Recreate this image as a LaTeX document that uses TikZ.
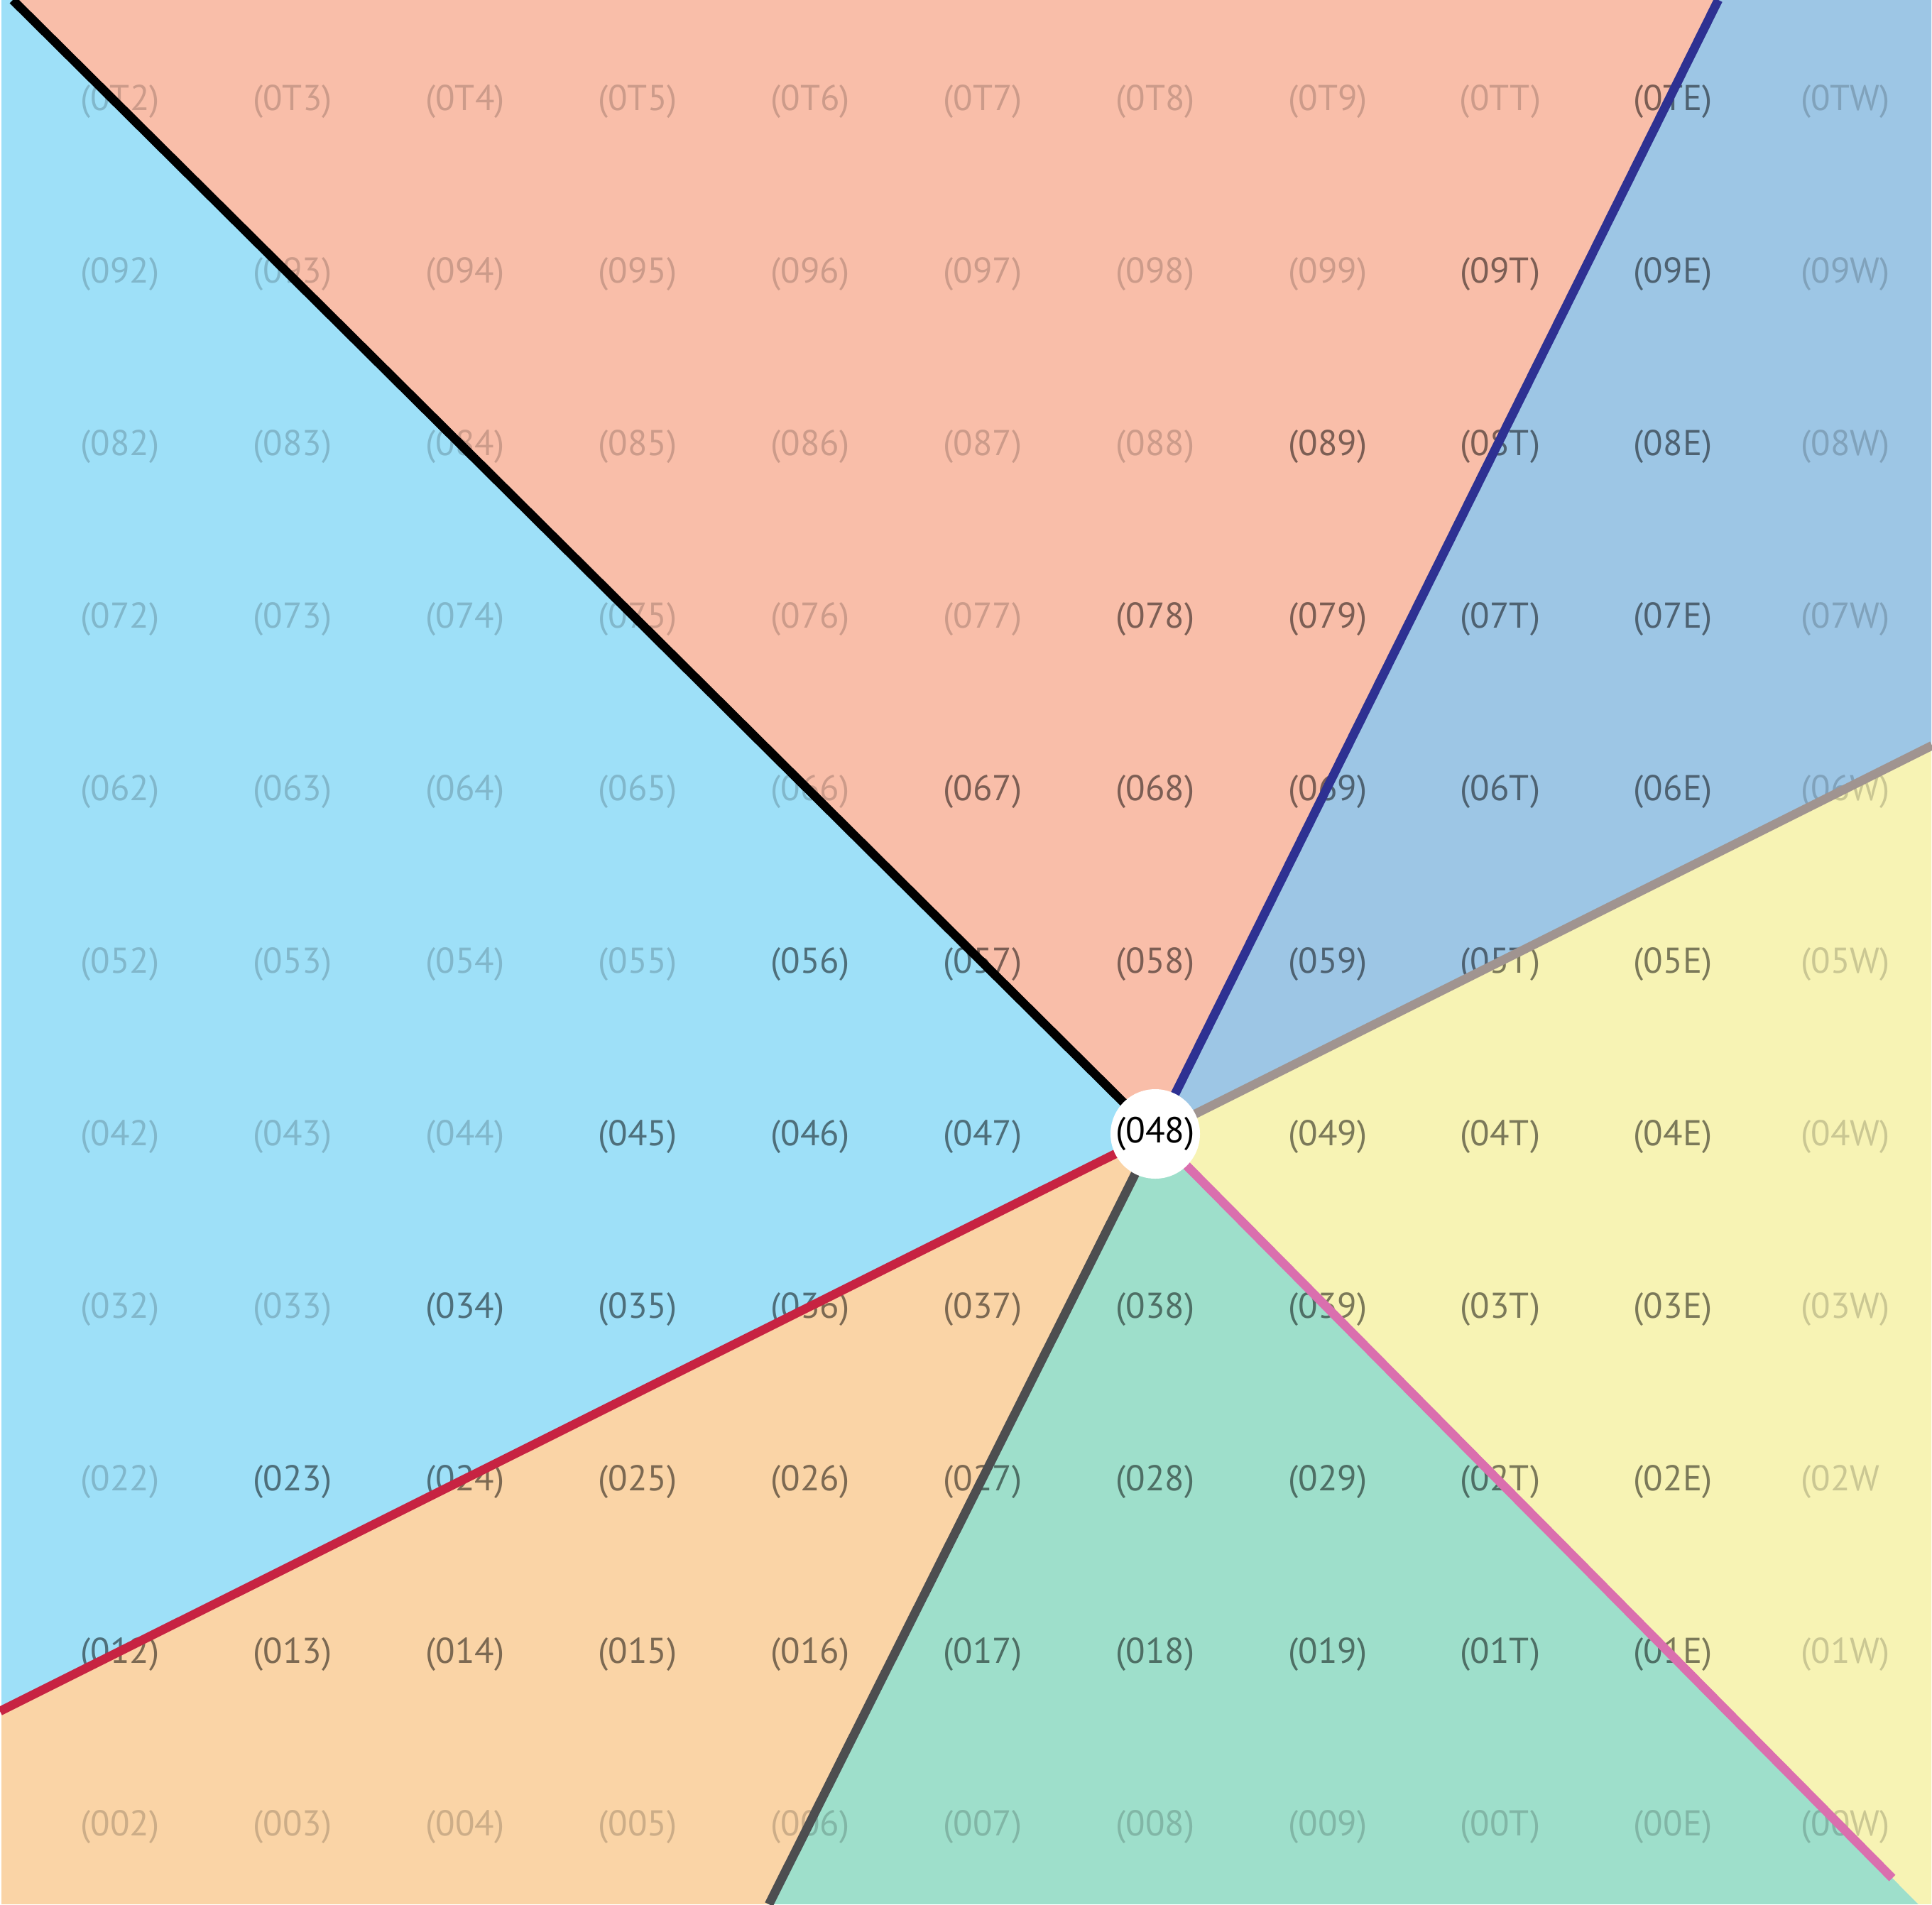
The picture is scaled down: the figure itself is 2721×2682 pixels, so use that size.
\documentclass[tikz,border=0pt]{standalone}
\usepackage{fontspec}
\setmainfont{PT Sans}
\definecolor{salmon}{HTML}{F9BEA9}
\definecolor{bluegray}{HTML}{9DC6E5}
\definecolor{paleyellow}{HTML}{F7F3B4}
\definecolor{mint}{HTML}{9EDFCB}
\definecolor{peach}{HTML}{FAD4A6}
\definecolor{lightblue}{HTML}{9EE0F8}
\definecolor{navyline}{HTML}{2E3192}
\definecolor{grayline}{HTML}{A09490}
\definecolor{pinkline}{HTML}{DA6FAE}
\definecolor{dgrayline}{HTML}{4D4E50}
\definecolor{redline}{HTML}{C72342}
\tikzset{
  lbl/.style={anchor=base, inner sep=0pt, font=\fontsize{50.5}{60}\selectfont, text=black},
  darklbl/.style={lbl, text opacity=0.5},
  fadedlbl/.style={lbl, text opacity=0.18},
  ray/.style={line width=12.5pt, line cap=butt},
  ctrnode/.style={circle, fill=white, minimum size=126pt, inner sep=0pt, font=\fontsize{51}{60}\selectfont, text=black}
}
\begin{document}
\begin{tikzpicture}[x=1pt,y=-1pt]
\useasboundingbox (0,0) rectangle (2721,2682);
\fill[white] (0,0) rectangle (2721,2682);
\coordinate (C) at (1627,1597);
\coordinate (eK) at (18,0);
\coordinate (eN) at (2420,0);
\coordinate (eG) at (2721,1050);
\coordinate (eP) at (2665,2645);
\coordinate (eP2) at (2702,2682);
\coordinate (eD) at (1083,2682);
\coordinate (eR) at (0,2410);
\begin{scope}
\clip (2,0) rectangle (2720,2681);
\fill[lightblue] (C) -- (eK) -- (0,0) -- (eR) -- cycle;
\fill[peach] (C) -- (eR) -- (0,2682) -- (eD) -- cycle;
\fill[mint] (C) -- (eD) -- (eP2) -- cycle;
\fill[paleyellow] (C) -- (eP2) -- (2721,2682) -- (eG) -- cycle;
\fill[bluegray] (C) -- (eG) -- (2721,0) -- (eN) -- cycle;
\fill[salmon] (C) -- (eN) -- (eK) -- cycle;
\end{scope}
\foreach \rl [count=\k from 0] in {T,9,8,7,6,5,4,3,2,1,0} {
  \foreach \cl [count=\i from 0] in {2,3,4,5,6,7,8,9,T,E,W} {
    \pgfmathtruncatemacro\rr{10-\k}
    \pgfmathtruncatemacro\cc{\i+2}
    \pgfmathtruncatemacro\dk{and(\cc-\rr>=1, and(\rr>=1, \cc<=11))}
    \pgfmathtruncatemacro\isctr{and(\k==6,\i==6)}
    \pgfmathtruncatemacro\isodd{and(\k==8,\i==10)}
    \pgfmathsetmacro\xx{169+243*\i}
    \pgfmathsetmacro\yy{137+18+243*\k}
    \ifnum\isctr=0
      \ifnum\isodd=1
        \node[fadedlbl] (l-\rl-\cl) at (\xx,\yy) {(0\rl\cl\phantom{)}};
      \else
        \ifnum\dk=1
          \node[darklbl] (l-\rl-\cl) at (\xx,\yy) {(0\rl\cl)};
        \else
          \node[fadedlbl] (l-\rl-\cl) at (\xx,\yy) {(0\rl\cl)};
        \fi
      \fi
    \fi
  }
}
\draw[ray, black] (C) -- (eK);
\draw[ray, navyline] (C) -- (eN);
\draw[ray, grayline] (C) -- (eG);
\draw[ray, pinkline] (C) -- (eP);
\draw[ray, dgrayline] (C) -- (eD);
\draw[ray, redline] (C) -- (eR);
\node[ctrnode] (ctr) at (C) {(048)};
\end{tikzpicture}
\end{document}
